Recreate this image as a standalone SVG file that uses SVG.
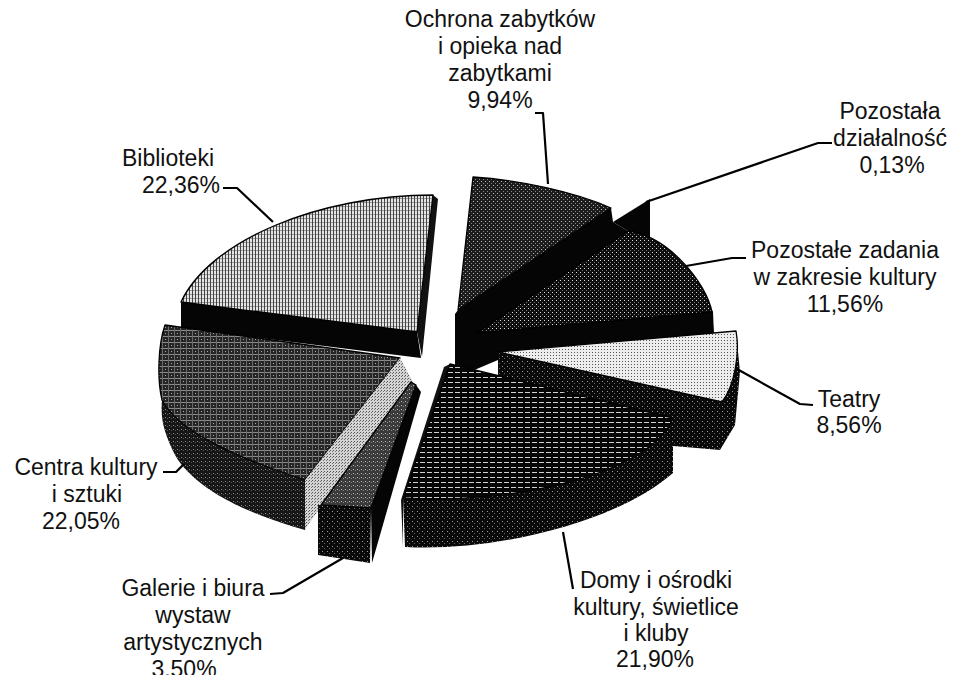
<svg xmlns="http://www.w3.org/2000/svg" width="957" height="675" viewBox="0 0 957 675">
<defs>
<style>
.lbl{font-family:"Liberation Sans",Arial,sans-serif;font-size:23px;fill:#111;text-anchor:middle}
.ld{fill:none;stroke:#000;stroke-width:2.2;stroke-linejoin:round}
.edge{stroke:#000;stroke-width:1.3;stroke-linejoin:round}
.blk{fill:#050505}
</style>
<pattern id="pBib" width="3" height="4" patternUnits="userSpaceOnUse">
<rect width="3" height="4" fill="#e4e4e4"/><rect x="0" width="1" height="4" fill="#444"/><rect x="1" y="2" width="2" height="1" fill="#9a9a9a"/>
</pattern>
<pattern id="pOch" width="4" height="4" patternUnits="userSpaceOnUse">
<rect width="4" height="4" fill="#1c1c1c"/><rect x="1" y="1" width="1" height="1" fill="#bbb"/><rect x="3" y="3" width="1" height="1" fill="#888"/>
</pattern>
<pattern id="pPoz" width="4" height="4" patternUnits="userSpaceOnUse">
<rect width="4" height="4" fill="#0d0d0d"/><rect width="1" height="1" fill="#ddd"/><rect x="2" y="2" width="1" height="1" fill="#777"/>
</pattern>
<pattern id="pTea" width="3" height="3" patternUnits="userSpaceOnUse">
<rect width="3" height="3" fill="#ededed"/><rect x="1" y="1" width="1" height="1" fill="#555"/>
</pattern>
<pattern id="pDom" width="7" height="5" patternUnits="userSpaceOnUse">
<rect width="7" height="5" fill="#050505"/><rect y="2" width="5" height="1" fill="#d0d0d0"/>
</pattern>
<pattern id="pCen" width="6" height="6" patternUnits="userSpaceOnUse">
<rect width="6" height="6" fill="#262626"/><rect width="6" height="1" fill="#8a8a8a"/><rect width="1" height="6" fill="#6a6a6a"/><rect x="3" y="3" width="1" height="1" fill="#aaa"/>
</pattern>
<pattern id="pSide" width="5" height="5" patternUnits="userSpaceOnUse">
<rect width="5" height="5" fill="#0a0a0a"/><rect x="2" y="1" width="1" height="1" fill="#9a9a9a"/><rect x="4" y="3" width="1" height="1" fill="#666"/>
</pattern>
<pattern id="pCenSide" width="4" height="4" patternUnits="userSpaceOnUse">
<rect width="4" height="4" fill="#161616"/><rect x="1" y="1" width="1" height="1" fill="#8a8a8a"/><rect x="3" y="2" width="1" height="1" fill="#555"/>
</pattern>
<pattern id="pStrip" width="3" height="3" patternUnits="userSpaceOnUse">
<rect width="3" height="3" fill="#d4d4d4"/><rect width="1" height="1" fill="#555"/><rect x="2" y="1" width="1" height="1" fill="#777"/>
</pattern>
<pattern id="pGal" width="4" height="4" patternUnits="userSpaceOnUse">
<rect width="4" height="4" fill="#3a3a3a"/><rect x="1" y="1" width="1" height="1" fill="#bbb"/><rect x="3" y="2" width="1" height="1" fill="#888"/>
</pattern>
</defs>
<rect width="957" height="675" fill="#fff"/>

<g id="biblioteki">
<path class="blk" d="M181,302 L417,332 L421,358 L181,328 Z"/>
<path fill="#111" d="M433,195 L438,199 L422,357 L417,332 Z"/>
<path class="edge" fill="url(#pBib)" d="M181,302 C210,240 320,195 433,195 L417,332 Z"/>
<text class="lbl" x="168" y="166">Biblioteki</text>
<text class="lbl" x="181" y="193">22,36%</text>
</g>

<g id="ochrona">
<path class="blk" d="M455,314 L458,310 L611,208 L613,222 L628,231 L650,242 L683,266 L703,293 L713,312 L714,336 L498,360 L472,371 L455,366 Z"/>
<path class="edge" fill="url(#pOch)" d="M473,177 C520,180 575,192 611,208 L458,310 Z"/>
<text class="lbl" x="500" y="27">Ochrona zabytków</text>
<text class="lbl" x="500" y="54">i opieka nad</text>
<text class="lbl" x="500" y="81">zabytkami</text>
<text class="lbl" x="500" y="108">9,94%</text>
</g>

<g id="pozostala">
<path class="blk" d="M613,222 L650,199 L650,242 L628,231 Z"/>
<text class="lbl" x="890" y="119">Pozostała</text>
<text class="lbl" x="890" y="146">działalność</text>
<text class="lbl" x="892" y="173">0,13%</text>
</g>

<g id="pozostale-zadania">
<path class="blk" d="M477,333 L712,312 L714,336 L498,360 Z"/>
<path class="edge" fill="url(#pPoz)" d="M477,333 L628,231 C668,236 706,282 712,312 Z"/>
<text class="lbl" x="845" y="258">Pozostałe zadania</text>
<text class="lbl" x="845" y="285">w zakresie kultury</text>
<text class="lbl" x="845" y="312">11,56%</text>
</g>

<g id="teatry">
<path fill="url(#pSide)" d="M498,352 L736,331 L740,372 L735,425 L720,450 L673,446 L498,400 Z"/>
<path class="edge" fill="url(#pTea)" d="M498,352 L736,331 C740,352 735,385 722,402 Z"/>
<text class="lbl" x="849" y="407">Teatry</text>
<text class="lbl" x="849" y="433">8,56%</text>
</g>

<g id="centra">
<path fill="url(#pCenSide)" d="M162,400 C180,435 250,462 305,480 L305,530 C250,515 195,490 175,455 C165,435 160,420 162,400 Z"/>
<path class="edge" fill="url(#pCen)" d="M165,325 L400,358 L305,480 C250,462 180,435 162,400 C157,380 158,345 165,325 Z"/>
<path fill="url(#pStrip)" d="M400,358 L413,382 L310,522 L305,530 L305,480 Z"/>
<text class="lbl" x="86" y="475">Centra kultury</text>
<text class="lbl" x="87" y="502">i sztuki</text>
<text class="lbl" x="81" y="529">22,05%</text>
</g>

<g id="galerie">
<path fill="url(#pSide)" d="M318,505 L371,508 L370,563 L318,555 Z"/>
<path class="blk" d="M416,385 L421,392 L372,563 L371,508 Z"/>
<path class="edge" fill="url(#pGal)" d="M411,382 L321,505 L371,508 L416,385 Z"/>
<text class="lbl" x="193" y="596">Galerie i biura</text>
<text class="lbl" x="193" y="623">wystaw</text>
<text class="lbl" x="193" y="650">artystycznych</text>
<text class="lbl" x="184" y="677">3.50%</text>
</g>

<g id="domy">
<path fill="#111" d="M450,364 L444,367 L401,500 L403,547 L403,498 Z"/>
<path fill="url(#pSide)" d="M673,418 C650,475 510,505 403,498 L405,547 C500,552 620,520 673,473 Z"/>
<path class="edge" fill="url(#pDom)" d="M450,364 L673,418 C650,475 510,505 403,498 Z"/>
<text class="lbl" x="656" y="588">Domy i ośrodki</text>
<text class="lbl" x="656" y="615">kultury, świetlice</text>
<text class="lbl" x="656" y="641">i kluby</text>
<text class="lbl" x="655" y="667">21,90%</text>
</g>

<g id="connectors">
<polyline class="ld" points="223,188 237,188 273,222"/>
<polyline class="ld" points="535,113 543,113 548,184"/>
<polyline class="ld" points="832,143 818,143 646,202"/>
<polyline class="ld" points="746,258 732,258 686,266"/>
<polyline class="ld" points="813,405 800,404 737,369"/>
<polyline class="ld" points="573,589 563,532"/>
<polyline class="ld" points="270,594 283,593 343,558"/>
<polyline class="ld" points="163,472 176,472 184,464"/>
</g>
</svg>
